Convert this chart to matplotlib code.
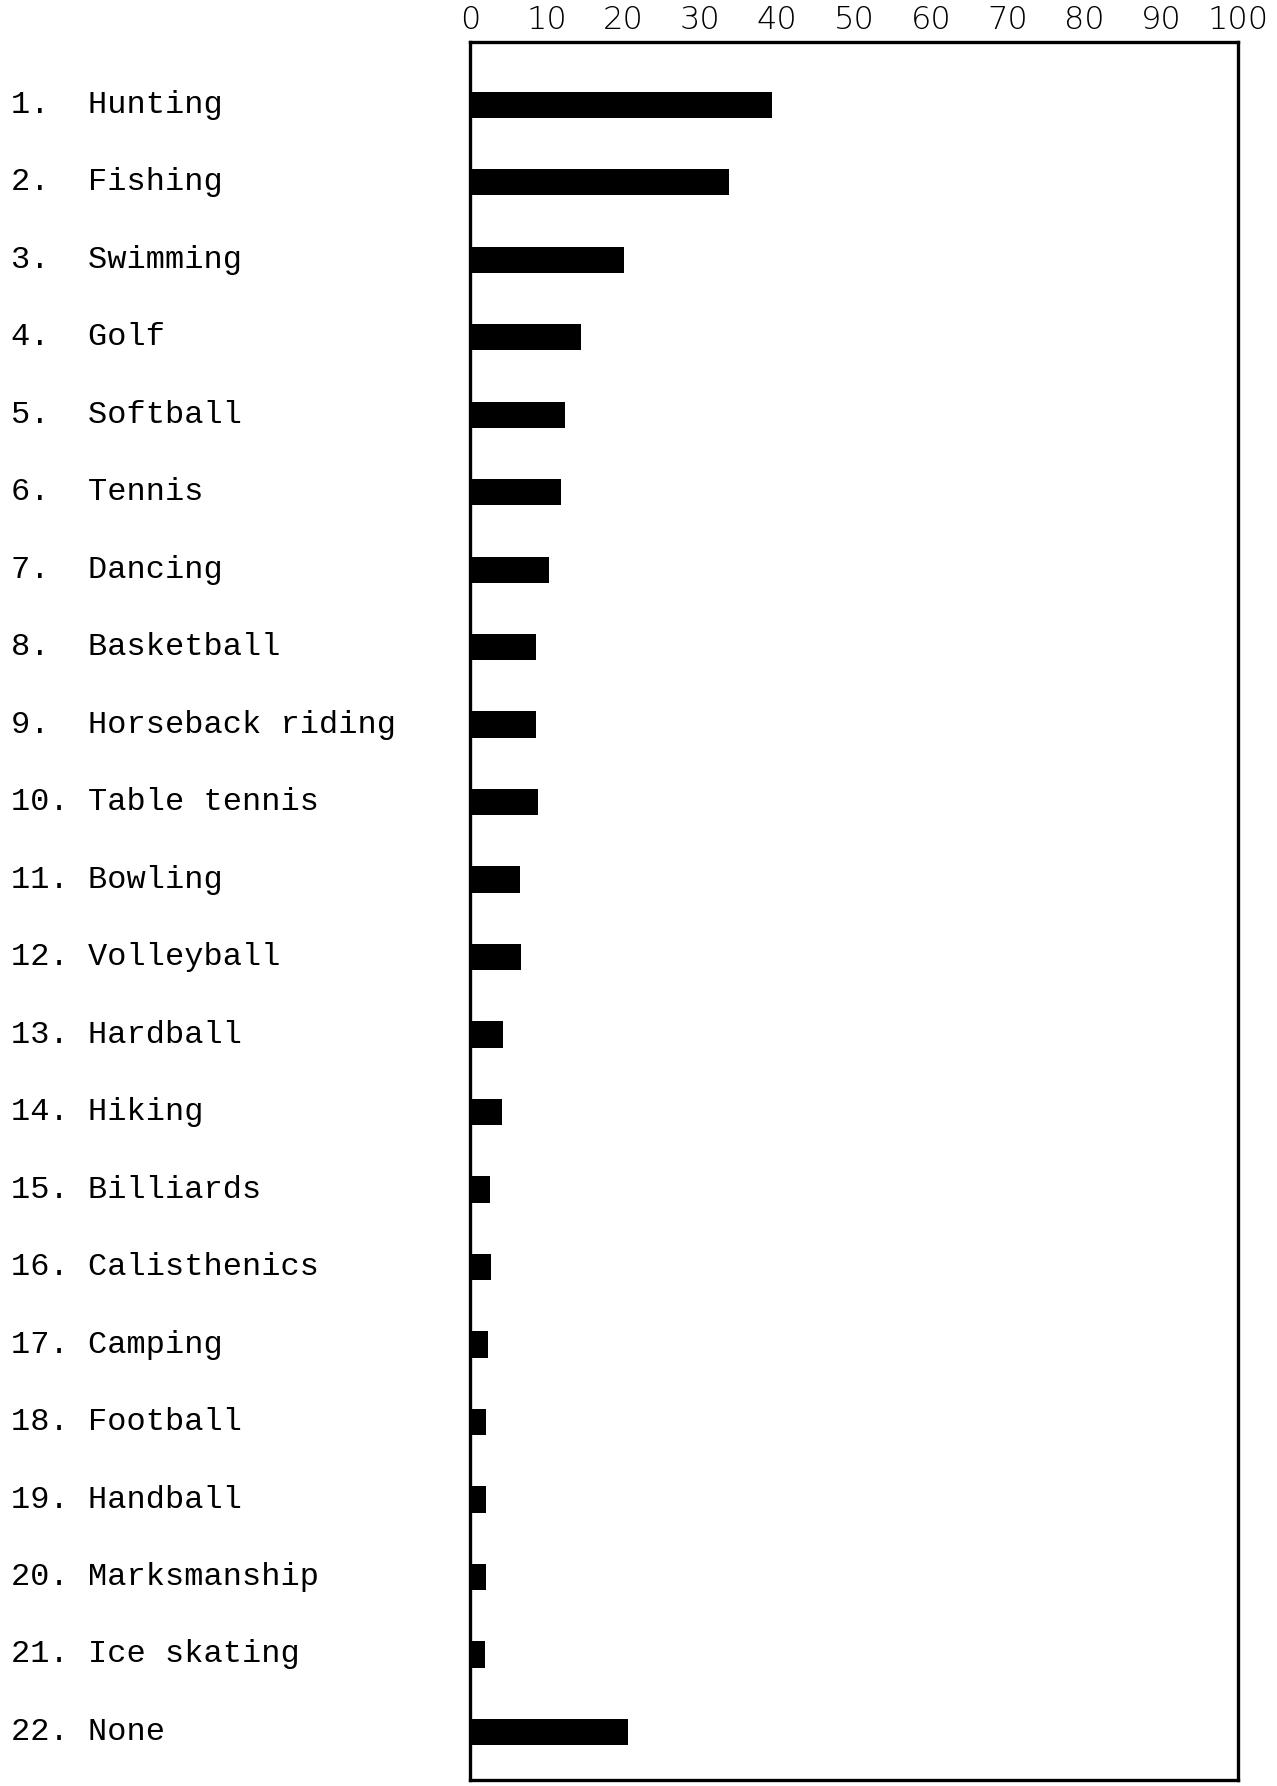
import numpy as np
import matplotlib.pyplot as plt
from matplotlib.transforms import blended_transform_factory

# activities, in the order they were typed
activities = ["Hunting", "Fishing", "Swimming", "Golf", "Softball", "Tennis",
              "Dancing", "Basketball", "Horseback riding", "Table tennis",
              "Bowling", "Volleyball", "Hardball", "Hiking", "Billiards",
              "Calisthenics", "Camping", "Football", "Handball",
              "Marksmanship", "Ice skating", "None"]
# percent
percent = [39.3, 33.7, 20.1, 14.5, 12.4, 11.9, 10.3, 8.6, 8.6, 8.8,
           6.5, 6.6, 4.3, 4.2, 2.6, 2.7, 2.4, 2.1, 2.1, 2.1, 1.9, 20.6]
xticks = [0, 10, 20, 30, 40, 50, 60, 70, 80, 90, 100]

W, H = 1277, 1786
fig = plt.figure(figsize=(W / 100, H / 100), dpi=100)
ax = fig.add_axes([470 / W, 1 - 1780 / H, (1238 - 470) / W, (1780 - 42) / H])

y = np.arange(len(activities))
ax.barh(y, percent, height=0.34, color="black")

ax.set_xlim(0, 100)
ax.set_ylim(21.62, -0.81)
ax.set_yticks([])
ax.set_xticks(xticks)
ax.xaxis.tick_top()
ax.tick_params(axis="x", length=0, pad=5, labelsize=23, labelcolor="black")
for lab in ax.get_xticklabels():
    lab.set_fontfamily("DejaVu Sans")
    lab.set_fontweight("light")
for s in ax.spines.values():
    s.set_linewidth(2.4)
    s.set_color("black")

# typewriter row labels, "1.  Hunting" style in a monospace face
trans = blended_transform_factory(fig.transFigure, ax.transData)
for i, name in enumerate(activities):
    num = f"{i + 1}."
    ax.text(11 / W, i, f"{num:<4}{name}", transform=trans, ha="left",
            va="center", fontsize=23, family="Liberation Mono", color="black")

fig.savefig("out.png", dpi=100, facecolor="white")
